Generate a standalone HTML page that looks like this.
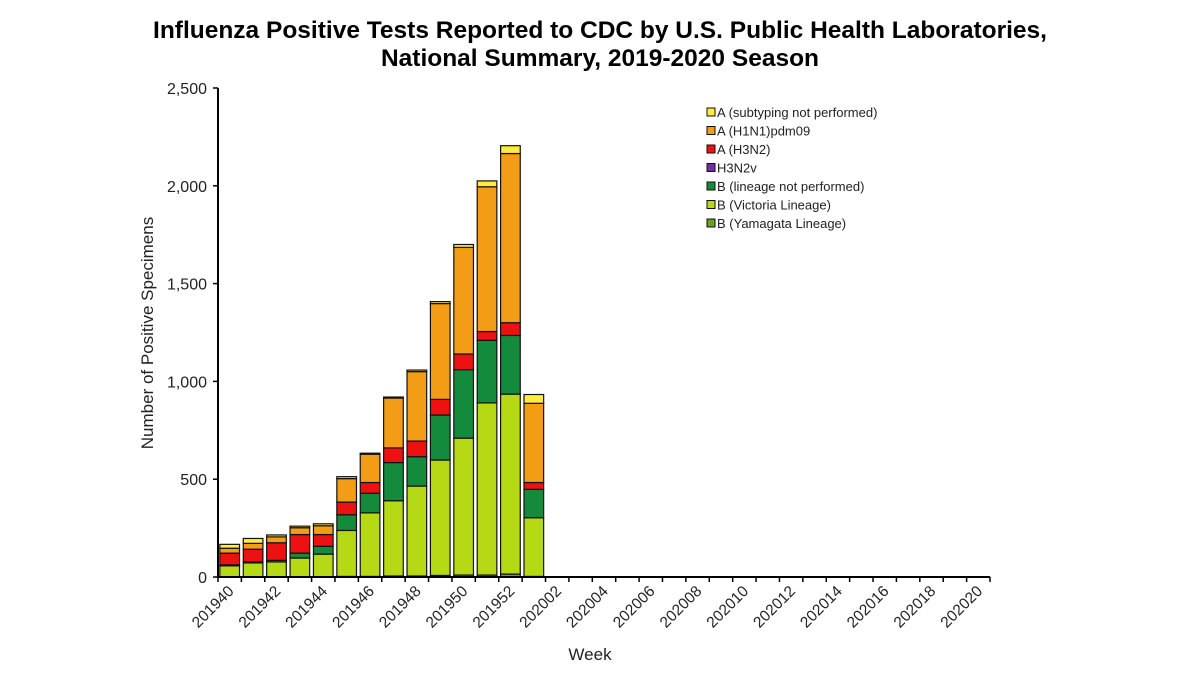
<!DOCTYPE html>
<html><head><meta charset="utf-8"><style>
body{margin:0;background:#fff;width:1200px;height:675px;overflow:hidden;font-family:"Liberation Sans",sans-serif}
</style></head><body>
<svg id="chart" width="1200" height="675" xmlns="http://www.w3.org/2000/svg" font-family="Liberation Sans, sans-serif">
<text x="600" y="38" text-anchor="middle" font-size="24.5" font-weight="bold">Influenza Positive Tests Reported to CDC by U.S. Public Health Laboratories,</text>
<text x="600" y="66" text-anchor="middle" font-size="24.5" font-weight="bold">National Summary, 2019-2020 Season</text>
<text transform="translate(153,333) rotate(-90)" text-anchor="middle" font-size="17" fill="#222">Number of Positive Specimens</text>
<text x="590" y="660" text-anchor="middle" font-size="17" fill="#222">Week</text>
<g id="bars"></g><g id="axes"></g><g id="legend"></g>
</svg>
<script>
const weeks=["201940","201941","201942","201943","201944","201945","201946","201947","201948","201949","201950","201951","201952","202001","202002","202003","202004","202005","202006","202007","202008","202009","202010","202011","202012","202013","202014","202015","202016","202017","202018","202019","202020"];
const seriesNames=["B (Yamagata Lineage)","B (Victoria Lineage)","B (lineage not performed)","H3N2v","A (H3N2)","A (H1N1)pdm09","A (subtyping not performed)"];
const colors=["#6aa121","#b5d914","#138a3c","#7030a0","#ee1111","#f39c16","#ffec3c"];
const yamagata=[2,2,2,2,2,3,3,5,5,8,10,10,15,3];
const victoria=[55,70,75,95,115,235,325,385,460,590,700,880,920,300];
const bLineage=[5,5,8,25,40,80,100,195,150,230,350,320,300,145];
const h3n2v=[0,0,0,0,0,0,0,0,0,0,0,0,0,0];
const h3n2=[60,65,90,95,60,65,55,75,80,80,80,45,65,35];
const h1n1=[25,30,30,35,45,120,145,255,355,490,545,740,865,405];
const aUnsub=[20,25,10,8,10,10,5,5,8,10,15,30,40,45];
const series=[yamagata,victoria,bLineage,h3n2v,h3n2,h1n1,aUnsub];
const yTicks=[0,500,1000,1500,2000,2500];
const yTickLabels=["0","500","1,000","1,500","2,000","2,500"];
const NS="http://www.w3.org/2000/svg";
const L=218,R=990,T=88,B=577,YMAX=2500;
const step=(R-L)/weeks.length;
const y=v=>B-v/YMAX*(B-T);
const x=i=>L+step*i;
function mk(tag,at,parent){const e=document.createElementNS(NS,tag);for(const k in at)e.setAttribute(k,at[k]);parent.appendChild(e);return e;}
const gb=document.getElementById('bars'),ga=document.getElementById('axes'),gl=document.getElementById('legend');
weeks.forEach((w,i)=>{let acc=0;const bw=step*0.84,bx=x(i)+(step-bw)/2;
 series.forEach((s,si)=>{const v=s[i]||0;if(v<=0)return;
  const r=mk('rect',{x:bx,y:y(acc+v),width:bw,height:y(acc)-y(acc+v),fill:colors[si],stroke:'#111','stroke-width':1.2},gb);
  
  
  acc+=v;});
});
const ax=mk('line',{x1:L,y1:T,x2:L,y2:B,stroke:'#000','stroke-width':2},ga);


const xx=mk('line',{x1:L,y1:B,x2:R,y2:B,stroke:'#000','stroke-width':2},ga);


yTicks.forEach((t,i)=>{mk('line',{x1:L-5,y1:y(t),x2:L,y2:y(t),stroke:'#000','stroke-width':1.5},ga);
 const tx=mk('text',{x:L-11,y:y(t)+6,'text-anchor':'end','font-size':16,fill:'#222'},ga);tx.textContent=yTickLabels[i];
 
 });
for(let i=0;i<=weeks.length;i++)mk('line',{x1:x(i),y1:B,x2:x(i),y2:B+5,stroke:'#000','stroke-width':1.5},ga);
weeks.forEach((w,i)=>{if(i%2)return;const cx=x(i)+step/2+5,cy=B+15;
 const t=mk('text',{x:cx,y:cy,'text-anchor':'end','font-size':15.5,fill:'#222',transform:`rotate(-45 ${cx} ${cy})`},ga);t.textContent=w;
 
 });
for(let k=0;k<7;k++){const si=6-k,ly=112+k*18.5;
 const sw=mk('rect',{x:707,y:ly-4,width:8,height:8,fill:colors[si],stroke:'#111','stroke-width':1},gl);
 
 
 const t=mk('text',{x:717,y:ly+5,'font-size':13,fill:'#222'},gl);t.textContent=seriesNames[si];
 
 }
</script>
</body></html>
